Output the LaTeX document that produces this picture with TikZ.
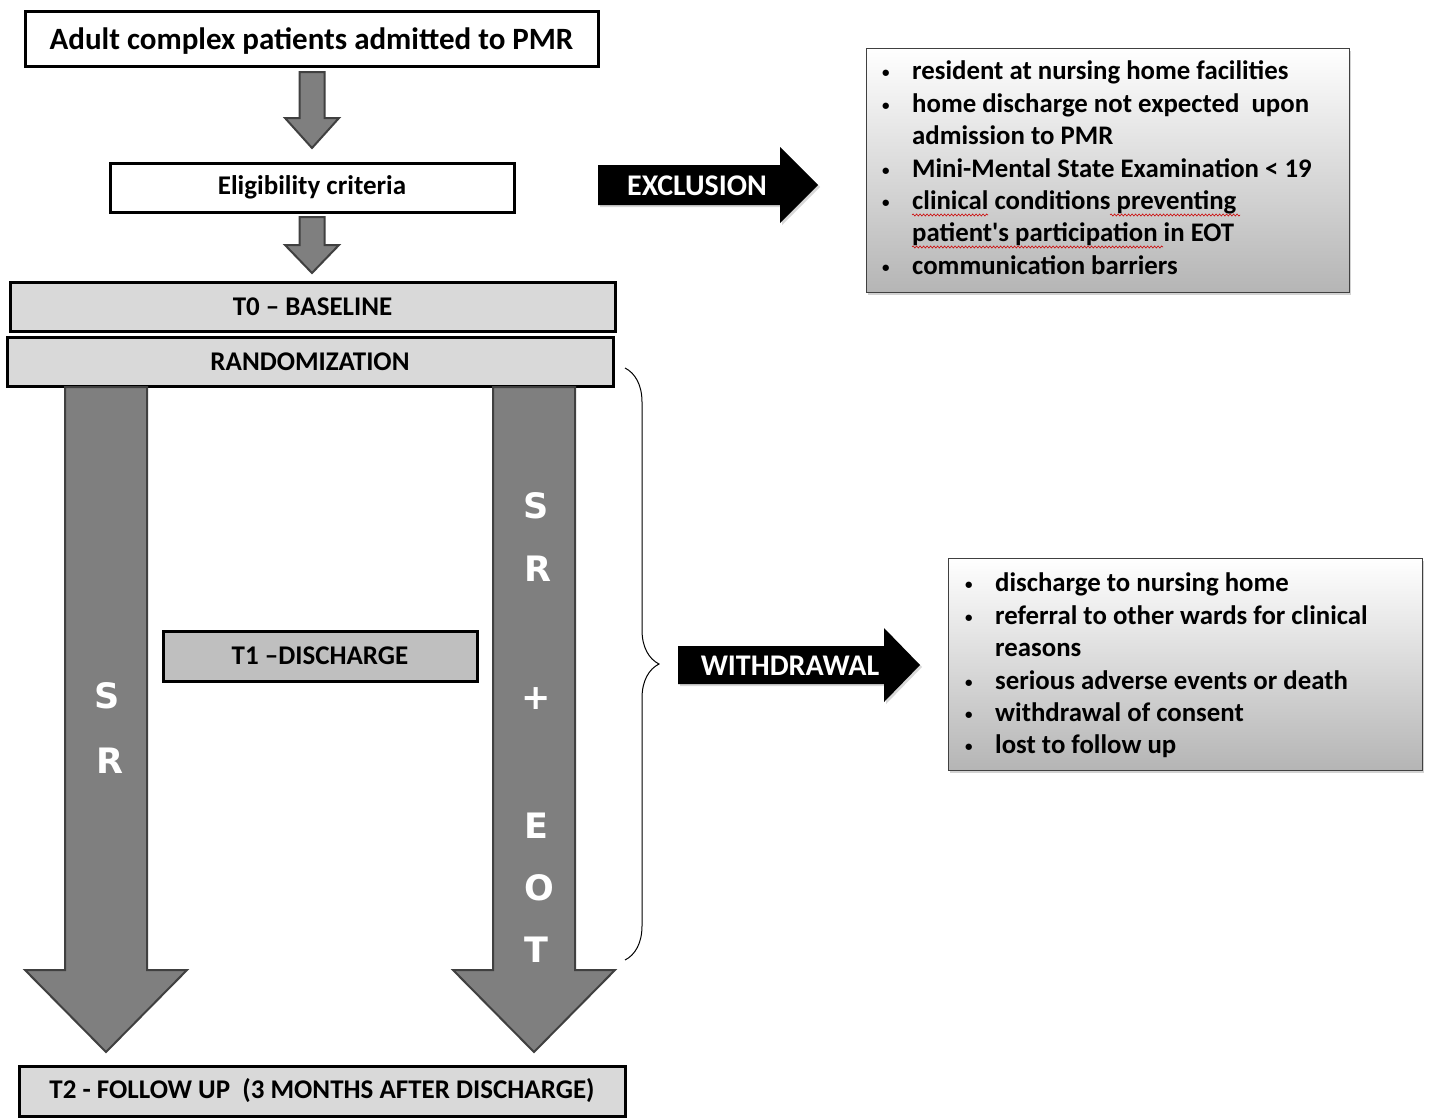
\documentclass[tikz,border=0pt]{standalone}
\usepackage{fontspec}
\setmainfont{Carlito}
\newfontfamily\djv{DejaVu Sans}
\usetikzlibrary{shadows,decorations.pathreplacing,decorations.pathmorphing}
\definecolor{boxgray}{HTML}{D9D9D9}
\definecolor{midgray}{HTML}{BFBFBF}
\definecolor{arrowgray}{HTML}{7F7F7F}
\definecolor{arrowedge}{HTML}{404040}
\definecolor{listbot}{HTML}{B5B5B5}
\newcommand\vblockarrow[6]{%
  \draw[bigarrow] ({#1-#4},#2) -- ({#1+#4},#2) -- ({#1+#4},{#3-#6}) -- ({#1+#5},{#3-#6})
    -- (#1,#3) -- ({#1-#5},{#3-#6}) -- ({#1-#4},{#3-#6}) -- cycle;}
\newcommand\hblockarrow[6]{%
  \fill[blackarrow] (#1,{#2-#4}) -- ({#3-#6},{#2-#4}) -- ({#3-#6},{#2-#5}) -- (#3,#2)
    -- ({#3-#6},{#2+#5}) -- ({#3-#6},{#2+#4}) -- (#1,{#2+#4}) -- cycle;}
\newcommand\smallbul{\raisebox{2pt}{\fontsize{15}{15}\selectfont\textbullet}}
\begin{document}
\begin{tikzpicture}[x=1pt,y=-1pt,
  box/.style={draw=black, line width=3pt, inner sep=0pt, font=\fontsize{27}{32}\selectfont\bfseries},
  bigarrow/.style={fill=arrowgray, draw=arrowedge, line width=2pt, line join=miter},
  blackarrow/.style={fill=black, drop shadow={shadow xshift=2pt, shadow yshift=-2pt, opacity=0.3}},
  listbox/.style={draw=arrowedge, line width=1pt, top color=white, bottom color=listbot,
     drop shadow={shadow xshift=2pt, shadow yshift=-3pt, opacity=0.35}},
  listtext/.style={anchor=north west, inner sep=0pt, font=\fontsize{26.8}{32.4}\selectfont\bfseries},
  arrowlab/.style={text=white, font=\fontsize{30}{34}\selectfont\bfseries},
  letter/.style={text=white, font=\djv\fontsize{35}{40}\selectfont\bfseries},
  squiggle/.style={draw=red!80!black, line width=0.6pt, decorate,
     decoration={snake, amplitude=1pt, segment length=3.5pt}}
]
\useasboundingbox (0,0) rectangle (1431,1119);
\fill[white] (0,0) rectangle (1431,1119);

% main column boxes
\node[box, fill=white, minimum width=573pt, minimum height=55pt, text depth=0pt, font=\fontsize{31}{36}\selectfont\bfseries]
  (title) at (311.5,39) {Adult complex patients admitted to PMR};
\node[box, fill=white, minimum width=404pt, minimum height=49pt] (elig) at (312,187.5) {Eligibility criteria};
\node[box, fill=boxgray, minimum width=605pt, minimum height=49pt] (t0) at (312.5,306.5) {T0 -- BASELINE};
\node[box, fill=boxgray, minimum width=606pt, minimum height=49pt] (rand) at (310,362) {RANDOMIZATION};

% small block arrows
\vblockarrow{312}{72}{148}{12.5}{27}{30}
\vblockarrow{312}{217}{273}{12.5}{27}{28}

% big block arrows
\vblockarrow{106}{387}{1052}{41}{81}{82}
\vblockarrow{534}{387}{1052}{41}{81}{82}

\node[box, fill=midgray, minimum width=314pt, minimum height=50pt] (t1) at (320,656) {T1 --DISCHARGE};
\node[box, fill=boxgray, minimum width=606pt, minimum height=50pt] (t2) at (322,1091)
  {T2 - FOLLOW UP\ \ (3 MONTHS AFTER DISCHARGE)};

% letters in big arrows
\node[letter] (lS) at (107,696) {S};
\node[letter] (lR) at (110,761) {R};
\node[letter] (rS) at (536,506) {S};
\node[letter] (rR) at (538,569) {R};
\node[letter] (rP) at (536,699) {+};
\node[letter] (rE) at (536,826) {E};
\node[letter] (rO) at (539,888) {O};
\node[letter] (rT) at (536,950) {T};

% brace
\draw[line width=1pt, decorate, decoration={brace, amplitude=34pt}] (625,368) -- (625,960);

% exclusion
\hblockarrow{598}{185}{818}{20}{38}{38}
\node[arrowlab] (excl) at (697,186) {EXCLUSION};
\node[listbox, minimum width=483pt, minimum height=244pt] (exbox) at (1107.5,170) {};
\node[listtext] (exlist) at (882,57) {%
\begin{tabular}{@{}p{30pt}@{}l@{}}
\smallbul & resident at nursing home facilities\\
\smallbul & home discharge not expected\ \ upon\\
 & admission to PMR\\
\smallbul & Mini-Mental State Examination < 19\\
\smallbul & clinical conditions preventing\\
 & patient\textquotesingle s participation in EOT\\
\smallbul & communication barriers
\end{tabular}};
\draw[squiggle] (912,215) -- (988,215);
\draw[squiggle] (1110,215) -- (1240,215);
\draw[squiggle] (912,247) -- (1163,247);

% withdrawal
\hblockarrow{678}{665}{920}{19}{37}{36}
\node[arrowlab] (wd) at (790,666) {WITHDRAWAL};
\node[listbox, minimum width=474pt, minimum height=212pt] (wdbox) at (1185,664) {};
\node[listtext] (wdlist) at (965,569) {%
\begin{tabular}{@{}p{30pt}@{}l@{}}
\smallbul & discharge to nursing home\\
\smallbul & referral to other wards for clinical\\
 & reasons\\
\smallbul & serious adverse events or death\\
\smallbul & withdrawal of consent\\
\smallbul & lost to follow up
\end{tabular}};
\end{tikzpicture}
\end{document}
